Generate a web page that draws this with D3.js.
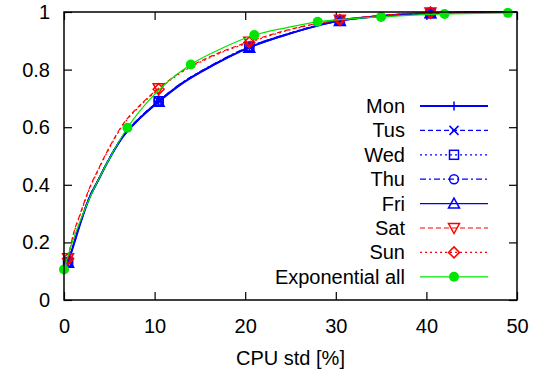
<!DOCTYPE html>
<html>
<head>
<meta charset="utf-8">
<script src="https://cdn.jsdelivr.net/npm/d3@7"></script>
<style>
  body { margin: 0; background: #fff; }
  svg { font-family: "Liberation Sans", Arial, sans-serif; }
</style>
</head>
<body>
<svg width="552" height="380"></svg>
<script>
// CPU std [%] sample positions for the per-day curves
var dayX = [0.45, 1, 1.8, 2.7, 3.8, 5, 6.5, 8.5, 10.45, 12.8, 16.5, 20.45, 24.6, 30.45, 35, 40.45, 45, 50];
var dayMarks = [0, 8, 11, 13, 15]; // indices that carry a point symbol

var mon = [0.130, 0.185, 0.266, 0.347, 0.417, 0.490, 0.567, 0.635, 0.689, 0.747, 0.816, 0.877, 0.922, 0.970, 0.986, 0.996, 0.999, 1.0];
var tus = [0.132, 0.187, 0.268, 0.349, 0.419, 0.492, 0.569, 0.637, 0.691, 0.749, 0.818, 0.879, 0.923, 0.971, 0.986, 0.996, 0.999, 1.0];
var wed = [0.131, 0.186, 0.267, 0.348, 0.418, 0.491, 0.568, 0.636, 0.690, 0.748, 0.817, 0.878, 0.922, 0.970, 0.986, 0.996, 0.999, 1.0];
var thu = [0.133, 0.188, 0.269, 0.350, 0.420, 0.493, 0.570, 0.638, 0.692, 0.750, 0.819, 0.880, 0.924, 0.971, 0.987, 0.997, 0.999, 1.0];
var fri = [0.129, 0.184, 0.265, 0.346, 0.416, 0.489, 0.566, 0.634, 0.688, 0.746, 0.815, 0.876, 0.921, 0.969, 0.985, 0.996, 0.999, 1.0];
var sat = [0.145, 0.225, 0.300, 0.380, 0.455, 0.530, 0.610, 0.680, 0.735, 0.790, 0.850, 0.897, 0.937, 0.973, 0.988, 0.998, 0.999, 1.0];
var sun = [0.143, 0.222, 0.297, 0.377, 0.452, 0.527, 0.607, 0.677, 0.732, 0.787, 0.847, 0.894, 0.935, 0.972, 0.988, 0.998, 0.999, 1.0];

// exponential fit over all days
var expX = [0, 0.7, 1.4, 2.5, 3.6, 5, 7, 9, 11, 14, 17.5, 21, 24.6, 28, 31.5, 35, 38.5, 42, 45.5, 49];
var expY = [0.106, 0.180, 0.243, 0.330, 0.405, 0.490, 0.598, 0.680, 0.745, 0.818, 0.875, 0.920, 0.946, 0.966, 0.976, 0.983, 0.989, 0.993, 0.995, 0.997];
var expMarks = [0, 6, 9, 11, 13, 15, 17, 19];

var xTicks = [0, 10, 20, 30, 40, 50];
var yTicks = [0, 0.2, 0.4, 0.6, 0.8, 1];

var series = [
  {name: "Mon", x: dayX, y: mon, marks: dayMarks, color: "#0000ff", width: 2, dash: null, sym: "plus"},
  {name: "Tus", x: dayX, y: tus, marks: dayMarks, color: "#0000ff", width: 1.2, dash: "5,3", sym: "cross"},
  {name: "Wed", x: dayX, y: wed, marks: dayMarks, color: "#0000ff", width: 1.2, dash: "2,3", sym: "square"},
  {name: "Thu", x: dayX, y: thu, marks: dayMarks, color: "#0000ff", width: 1.2, dash: "6,3,2,3", sym: "circle"},
  {name: "Fri", x: dayX, y: fri, marks: dayMarks, color: "#0000ff", width: 1.2, dash: null, sym: "triup"},
  {name: "Sat", x: dayX, y: sat, marks: dayMarks, color: "#ff0000", width: 1.2, dash: "5,3", sym: "tridown"},
  {name: "Sun", x: dayX, y: sun, marks: dayMarks, color: "#ff0000", width: 1.2, dash: "2,3", sym: "diamond"},
  {name: "Exponential all", x: expX, y: expY, marks: expMarks, color: "#00e600", width: 1.2, dash: null, sym: "dot"}
];

var svg = d3.select("svg");
var plotL = 64, plotR = 517, plotT = 12, plotB = 300;

var x = d3.scaleLinear().domain([0, 50]).range([plotL, plotR]);
var y = d3.scaleLinear().domain([0, 1]).range([plotB, plotT]);

//------- axes (ticks point inwards on all four sides)
var gx = svg.append("g").attr("transform", "translate(0," + plotB + ")")
  .call(d3.axisBottom(x).tickValues(xTicks).tickFormat(d3.format("d")).tickSize(-8).tickPadding(19));
var gy = svg.append("g").attr("transform", "translate(" + plotL + ",0)")
  .call(d3.axisLeft(y).tickValues(yTicks).tickFormat(function(d) { return d === 0 || d === 1 ? d : d.toFixed(1); }).tickSize(-8).tickPadding(14));
var gt = svg.append("g").attr("transform", "translate(0," + plotT + ")")
  .call(d3.axisTop(x).tickValues(xTicks).tickSize(-8).tickFormat(""));
var gr = svg.append("g").attr("transform", "translate(" + plotR + ",0)")
  .call(d3.axisRight(y).tickValues(yTicks).tickSize(-8).tickFormat(""));

[gx, gy, gt, gr].forEach(function(g) {
  g.select(".domain").remove();
  g.selectAll(".tick line").attr("stroke", "#000").attr("stroke-width", 1.2);
  g.selectAll(".tick text").attr("font-size", 20).attr("fill", "#000")
    .attr("font-family", "Liberation Sans, Arial, sans-serif");
});

svg.append("text")
  .attr("x", (plotL + plotR) / 2).attr("y", 365)
  .attr("text-anchor", "middle").attr("font-size", 20)
  .text("CPU std [%]");

//------- symbols
function drawSymbol(g, type, cx, cy, color) {
  var s = 4.5;
  if (type === "plus") {
    g.append("path").attr("d", "M" + (cx - s) + "," + cy + "H" + (cx + s) + "M" + cx + "," + (cy - s) + "V" + (cy + s))
      .attr("stroke", color).attr("stroke-width", 1.5).attr("fill", "none");
  } else if (type === "cross") {
    g.append("path").attr("d", "M" + (cx - s) + "," + (cy - s) + "L" + (cx + s) + "," + (cy + s) + "M" + (cx - s) + "," + (cy + s) + "L" + (cx + s) + "," + (cy - s))
      .attr("stroke", color).attr("stroke-width", 1.5).attr("fill", "none");
  } else if (type === "square") {
    g.append("rect").attr("x", cx - s).attr("y", cy - s).attr("width", 2 * s).attr("height", 2 * s)
      .attr("stroke", color).attr("stroke-width", 1.5).attr("fill", "none");
  } else if (type === "circle") {
    g.append("circle").attr("cx", cx).attr("cy", cy).attr("r", s)
      .attr("stroke", color).attr("stroke-width", 1.5).attr("fill", "none");
  } else if (type === "triup") {
    g.append("path").attr("d", "M" + cx + "," + (cy - s - 1) + "L" + (cx + s + 1) + "," + (cy + s) + "L" + (cx - s - 1) + "," + (cy + s) + "Z")
      .attr("stroke", color).attr("stroke-width", 1.5).attr("fill", "none");
  } else if (type === "tridown") {
    g.append("path").attr("d", "M" + cx + "," + (cy + s + 1) + "L" + (cx + s + 1) + "," + (cy - s) + "L" + (cx - s - 1) + "," + (cy - s) + "Z")
      .attr("stroke", color).attr("stroke-width", 1.5).attr("fill", "none");
  } else if (type === "diamond") {
    g.append("path").attr("d", "M" + cx + "," + (cy - s - 1) + "L" + (cx + s + 1) + "," + cy + "L" + cx + "," + (cy + s + 1) + "L" + (cx - s - 1) + "," + cy + "Z")
      .attr("stroke", color).attr("stroke-width", 1.5).attr("fill", "none");
  } else if (type === "dot") {
    g.append("circle").attr("cx", cx).attr("cy", cy).attr("r", 5).attr("fill", color);
  }
}

//------- curves
var line = d3.line()
  .x(function(d) { return x(d[0]); })
  .y(function(d) { return y(d[1]); })
  .curve(d3.curveMonotoneX);

var plot = svg.append("g");
series.forEach(function(s) {
  var pts = s.x.map(function(v, i) { return [v, s.y[i]]; });
  plot.append("path").datum(pts)
    .attr("d", line)
    .attr("fill", "none")
    .attr("stroke", s.color)
    .attr("stroke-width", s.width)
    .attr("stroke-dasharray", s.dash);
  var gm = plot.append("g");
  s.marks.forEach(function(i) {
    drawSymbol(gm, s.sym, x(pts[i][0]), y(pts[i][1]), s.color);
  });
});

//------- legend
var legend = svg.append("g");
series.forEach(function(s, i) {
  var ly = 106 + i * 24.4;
  legend.append("text")
    .attr("x", 405).attr("y", ly).attr("dy", "0.35em")
    .attr("text-anchor", "end").attr("font-size", 20)
    .text(s.name);
  legend.append("line")
    .attr("x1", 420).attr("x2", 488).attr("y1", ly).attr("y2", ly)
    .attr("stroke", s.color).attr("stroke-width", s.width)
    .attr("stroke-dasharray", s.dash);
  drawSymbol(legend, s.sym, 454, ly, s.color);
});

//------- frame
svg.append("rect")
  .attr("x", plotL).attr("y", plotT)
  .attr("width", plotR - plotL).attr("height", plotB - plotT)
  .attr("fill", "none").attr("stroke", "#000").attr("stroke-width", 1.5);
</script>
</body>
</html>
